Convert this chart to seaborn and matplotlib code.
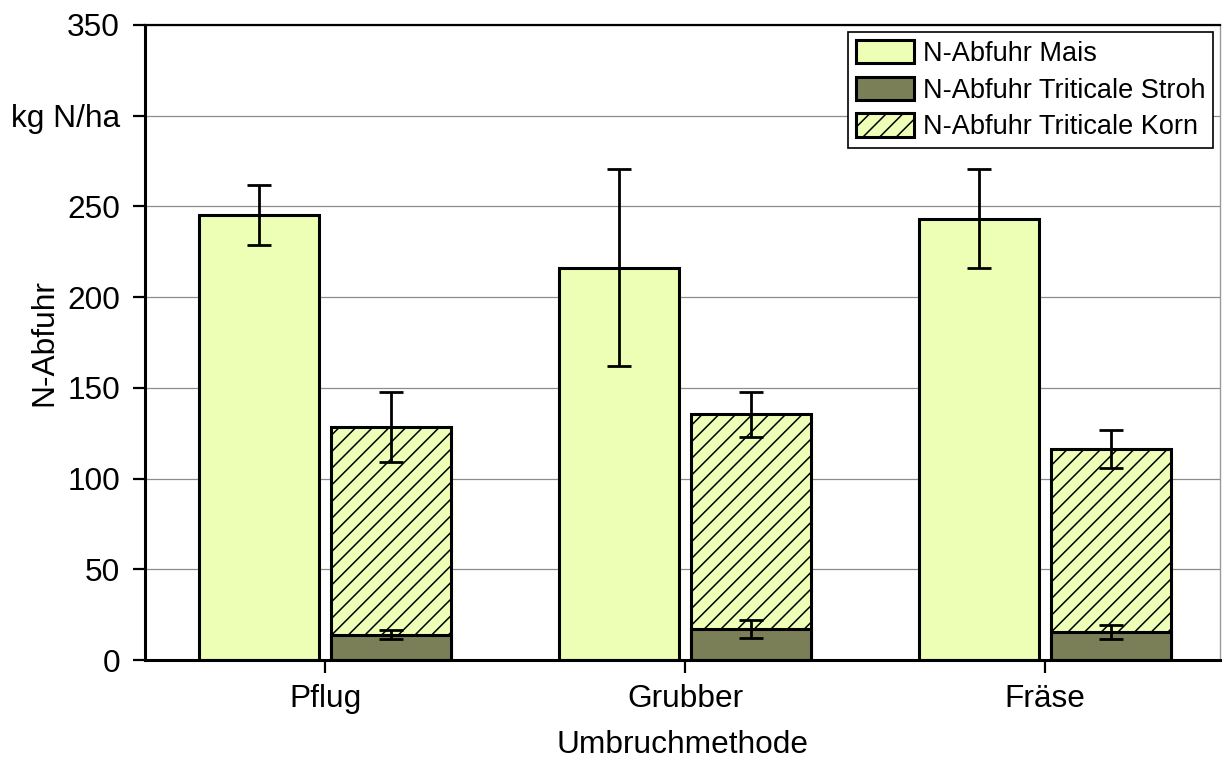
import numpy as np
import pandas as pd
import matplotlib
matplotlib.use("Agg")
import matplotlib.pyplot as plt
from matplotlib.patches import Patch
import seaborn as sns

# Tillage methods and N removal (kg N/ha)
methods = ["Pflug", "Grubber", "Fräse"]
mais = [245.3, 216.1, 243.1]
mais_err = [16.4, 54.3, 27.3]
stroh = [13.8, 17.2, 15.4]
stroh_err = [2.5, 4.9, 3.8]
korn = [114.8, 118.2, 100.9]
triticale_err = [19.3, 12.5, 10.4]

yticks = [0, 50, 100, 150, 200, 250, 300, 350]
ytick_labels = ["0", "50", "100", "150", "200", "250", "kg N/ha", "350"]

lab_mais = "N-Abfuhr Mais"
lab_stroh = "N-Abfuhr Triticale Stroh"
lab_korn = "N-Abfuhr Triticale Korn"

c_mais = "#ECFFB4"
c_korn = "#EEFFB8"
c_stroh = "#7A7F58"

sns.set_style("white")
plt.rcParams["font.family"] = ["Liberation Sans", "DejaVu Sans"]
plt.rcParams["hatch.linewidth"] = 1.1
for key in ["text.color", "axes.labelcolor", "xtick.color", "ytick.color"]:
    plt.rcParams[key] = "black"

triticale_total = [s + k for s, k in zip(stroh, korn)]

df_main = pd.DataFrame({
    "Umbruchmethode": methods * 2,
    "Fraktion": [lab_mais] * 3 + [lab_korn] * 3,
    "Wert": mais + triticale_total,
})
df_stroh = pd.DataFrame({
    "Umbruchmethode": methods,
    "Fraktion": [lab_stroh] * 3,
    "Wert": stroh,
})

fig = plt.figure(figsize=(12.23, 7.59), dpi=100)
ax = fig.add_axes([145 / 1223, 99 / 759, 1075 / 1223, 635 / 759])

bar_kw = dict(width=0.7333, gap=0.0909, saturation=1, errorbar=None,
              edgecolor="black", linewidth=2.2, legend=False, zorder=2,
              dodge=True)

n0 = len(ax.containers)
sns.barplot(data=df_main, x="Umbruchmethode", y="Wert", hue="Fraktion",
            hue_order=[lab_mais, lab_korn], order=methods,
            palette={lab_mais: c_mais, lab_korn: c_korn}, ax=ax, **bar_kw)
main_conts = [c for c in ax.containers[n0:] if len(c) > 0]
mais_bars, korn_bars = main_conts[0], main_conts[1]
for p in korn_bars:
    p.set_hatch("//")

# Straw sits at the bottom of the triticale column (second dodge slot)
n1 = len(ax.containers)
sns.barplot(data=df_stroh, x="Umbruchmethode", y="Wert", hue="Fraktion",
            hue_order=[lab_mais, lab_stroh], order=methods,
            palette={lab_mais: c_mais, lab_stroh: c_stroh}, ax=ax, **bar_kw)
stroh_bars = [c for c in ax.containers[n1:] if len(c) > 0][0]

err_kw = dict(fmt="none", ecolor="black", elinewidth=2.0, capsize=8.4,
              capthick=2.0, zorder=4)


def centers(bars):
    return [p.get_x() + p.get_width() / 2 for p in bars]


ax.errorbar(centers(mais_bars), mais, yerr=mais_err, **err_kw)
ax.errorbar(centers(korn_bars), triticale_total, yerr=triticale_err, **err_kw)
ax.errorbar(centers(stroh_bars), stroh, yerr=stroh_err, **err_kw)

ax.set_xlim(-0.5, 2.486)
ax.set_ylim(0, 350)
ax.set_yticks(yticks)
ax.set_yticklabels(ytick_labels)
ax.yaxis.grid(True, color="#8C8C8C", linewidth=0.9, zorder=0)
ax.set_axisbelow(True)

ax.tick_params(axis="both", labelsize=22.8, direction="out", color="black")
ax.tick_params(axis="y", length=9, width=1.6, pad=9, left=True)
ax.tick_params(axis="x", length=9, width=1.6, pad=8, bottom=True)

for side in ["left", "bottom", "top"]:
    ax.spines[side].set_color("black")
    ax.spines[side].set_linewidth(2.2)
ax.spines["top"].set_linewidth(1.6)
ax.spines["right"].set_color("#9A9A9A")
ax.spines["right"].set_linewidth(1.0)

ax.set_xlabel("Umbruchmethode", fontsize=22.8, labelpad=12)
ax.set_ylabel("N-Abfuhr", fontsize=22.8)
ax.yaxis.set_label_coords(-0.080, 0.5)

handles = [
    Patch(facecolor=c_mais, edgecolor="black", linewidth=2.2, label=lab_mais),
    Patch(facecolor=c_stroh, edgecolor="black", linewidth=2.2, label=lab_stroh),
    Patch(facecolor=c_korn, edgecolor="black", linewidth=2.2, hatch="//", label=lab_korn),
]
leg = ax.legend(handles=handles, loc="upper right", bbox_to_anchor=(1.0, 1.0),
                fontsize=19.5, frameon=True, fancybox=False, framealpha=1,
                edgecolor="black", handlelength=2.15, handleheight=0.95,
                handletextpad=0.3, labelspacing=0.36, borderpad=0.3,
                borderaxespad=0.25)
leg.get_frame().set_linewidth(1.2)

fig.savefig("out.png", dpi=100)
